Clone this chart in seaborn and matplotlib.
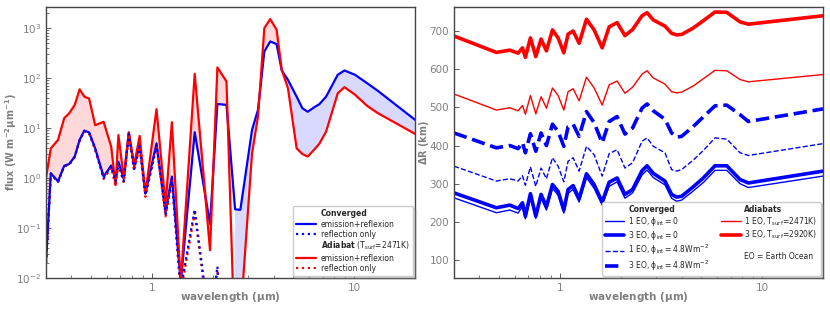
import numpy as np
import pandas as pd
import matplotlib
matplotlib.use("Agg")
import matplotlib.pyplot as plt
from matplotlib.lines import Line2D
from matplotlib.ticker import FixedLocator, FuncFormatter, LogLocator, NullFormatter
import seaborn as sns

# ---------------- data: left panel (flux) ----------------
wl_flux = [0.30, 0.317, 0.344, 0.369, 0.391, 0.416, 0.44, 0.464, 0.49, 0.525,
           0.578, 0.63, 0.662, 0.684, 0.727, 0.77, 0.818, 0.871, 0.93, 1.055,
           1.17, 1.257, 1.39, 1.63, 1.94, 2.11, 2.34, 2.58, 2.74, 3.13,
           3.35, 3.6, 3.85, 4.14, 4.39, 4.71, 5.2, 5.55, 5.9, 6.36,
           6.73, 7.27, 8.3, 8.96, 10.1, 11.6, 13.1, 20.0]
flux_adiabat = [1.0, 3.9, 5.75, 15.6, 19.6, 28.8, 59, 42, 38.6, 11.3,
                13.2, 4.2, 0.72, 7.2, 1.0, 8.1, 1.8, 6.9, 0.49, 23.6,
                0.29, 13, 0.008, 120, 0.036, 161, 84.5, 3e-4, 1.5e-3, 3.1,
                16.9, 985, 1490, 910, 145, 62, 3.9, 3.0, 2.67, 3.7,
                4.8, 8.4, 49, 65, 46, 27.5, 19.7, 7.6]
flux_converged = [0.02, 1.24, 0.85, 1.74, 1.9, 2.67, 5.75, 8.8, 8.1, 3.9,
                  1.06, 1.77, 0.94, 2.1, 0.95, 8.1, 1.69, 4.6, 0.49, 4.9,
                  0.21, 1.06, 0.008, 8.2, 0.12, 30, 28.8, 0.236, 0.23, 9.1,
                  23, 336, 533, 471, 140, 91, 42, 24.7, 21, 25.9,
                  29.7, 42, 115, 140, 115, 78, 55, 14.5]
refl_converged = [0.02, 1.22, 0.84, 1.72, 1.88, 2.64, 5.7, 8.7, 8.0, 3.8,
                  1.0, 1.7, 0.85, 1.9, 0.85, 7.5, 1.5, 4.3, 0.45, 4.5,
                  0.19, 0.95, 0.006, 0.236, 0.001, 0.017, 1e-5, 1e-6, 1e-6, 1e-6,
                  1e-6, 1e-6, 1e-6, 1e-6, 1e-6, 1e-6, 1e-6, 1e-6, 1e-6, 1e-6,
                  1e-6, 1e-6, 1e-6, 1e-6, 1e-6, 1e-6, 1e-6, 1e-6]
refl_adiabat = [0.02, 1.2, 0.82, 1.7, 1.85, 2.6, 5.6, 8.5, 7.8, 3.6,
                0.95, 1.6, 0.68, 1.8, 0.8, 7.2, 1.4, 4.1, 0.42, 4.3,
                0.17, 0.9, 0.005, 0.2, 0.0008, 0.015, 1e-5, 1e-6, 1e-6, 1e-6,
                1e-6, 1e-6, 1e-6, 1e-6, 1e-6, 1e-6, 1e-6, 1e-6, 1e-6, 1e-6,
                1e-6, 1e-6, 1e-6, 1e-6, 1e-6, 1e-6, 1e-6, 1e-6]

# ---------------- data: right panel (Delta R) ----------------
wl_rad = [0.30, 0.486, 0.566, 0.622, 0.654, 0.676, 0.716, 0.761, 0.808, 0.859,
          0.920, 0.981, 1.047, 1.099, 1.164, 1.246, 1.355, 1.478, 1.62, 1.754,
          1.92, 2.10, 2.29, 2.55, 2.70, 2.90, 3.31, 3.57, 3.78, 4.00,
          4.57, 5.12, 5.85, 6.69, 7.78, 8.55, 20.0]
dr_adiab_3eo = [687, 644, 650, 642, 656, 631, 682, 633, 679, 648,
                703, 682, 643, 692, 700, 668, 731, 703, 656, 711,
                722, 688, 704, 740, 748, 729, 713, 694, 690, 691,
                708, 727, 750, 749, 724, 718, 740]
dr_adiab_1eo = [535, 493, 499, 491, 505, 482, 531, 483, 528, 498,
                551, 531, 493, 541, 549, 517, 579, 551, 506, 559,
                569, 537, 553, 587, 596, 577, 561, 541, 538, 540,
                556, 575, 597, 596, 573, 567, 586]
dr_conv_3eo_48 = [433, 394, 400, 392, 408, 381, 431, 385, 433, 400,
                  456, 437, 398, 449, 456, 424, 489, 460, 407, 463,
                  476, 430, 446, 498, 509, 491, 469, 433, 422, 424,
                  450, 475, 504, 506, 481, 463, 496]
dr_conv_1eo_48 = [346, 307, 313, 307, 321, 296, 344, 293, 341, 313,
                  368, 346, 305, 359, 368, 333, 398, 376, 320, 379,
                  389, 341, 355, 411, 420, 398, 381, 337, 333, 337,
                  362, 387, 420, 417, 381, 374, 405]
dr_conv_3eo_0 = [276, 237, 244, 235, 250, 215, 274, 215, 272, 240,
                 298, 280, 231, 285, 295, 261, 326, 298, 252, 304,
                 315, 272, 285, 334, 347, 327, 307, 272, 265, 267,
                 292, 315, 347, 347, 311, 302, 333]
dr_conv_1eo_0 = [263, 224, 231, 223, 240, 208, 263, 209, 262, 231,
                 288, 270, 223, 275, 285, 252, 316, 288, 244, 293,
                 305, 262, 276, 323, 336, 316, 297, 262, 254, 257,
                 281, 303, 335, 335, 300, 290, 320]

# ---------------- style ----------------
sns.set_theme(style="ticks")
plt.rcParams['font.family'] = ['DejaVu Sans']
GREY = '#808080'
plt.rcParams.update({
    'axes.edgecolor': '#444444',
    'axes.linewidth': 1.0,
    'xtick.direction': 'in', 'ytick.direction': 'in',
    'xtick.color': '#444444', 'ytick.color': '#444444',
    'xtick.labelcolor': GREY, 'ytick.labelcolor': GREY,
    'xtick.labelsize': 7.5, 'ytick.labelsize': 7.5,
    'xtick.major.size': 3.5, 'ytick.major.size': 3.5,
    'xtick.minor.size': 2, 'ytick.minor.size': 2,
    'xtick.major.width': 0.6, 'ytick.major.width': 0.6,
    'xtick.minor.width': 0.5, 'ytick.minor.width': 0.5,
    'mathtext.default': 'regular',
})

fig = plt.figure(figsize=(8.3, 3.12), dpi=100)
axL = fig.add_axes([46/830, 1-278/312, (415-46)/830, (278-7)/312])
axR = fig.add_axes([454/830, 1-278/312, (823-454)/830, (278-7)/312])

# ---------------- left panel ----------------
wlf = np.array(wl_flux)
fa = np.array(flux_adiabat)
fc = np.array(flux_converged)
axL.set_xscale('log')
axL.set_yscale('log')
axL.fill_between(wlf, fa, fc, where=fa >= fc, interpolate=True,
                 color='red', alpha=0.15, lw=0)
axL.fill_between(wlf, fa, fc, where=fc >= fa, interpolate=True,
                 color='blue', alpha=0.15, lw=0)
kw = dict(ax=axL, estimator=None, sort=False, legend=False)
sns.lineplot(x=wl_flux, y=flux_converged, color='blue', lw=1.6, **kw)
sns.lineplot(x=wl_flux, y=flux_adiabat, color='red', lw=1.6, **kw)
sns.lineplot(x=wl_flux, y=refl_adiabat, color='red', lw=1.6, linestyle=':', **kw)
sns.lineplot(x=wl_flux, y=refl_converged, color='blue', lw=1.6, linestyle=':', **kw)
axL.set_xlim(0.3, 20)
axL.set_ylim(1e-2, 2.6e3)
axL.set_xlabel(r'wavelength ($\mu$m)', color=GREY, fontsize=7.5, fontweight='bold')
axL.set_ylabel(r'flux (W m$^{-2}$$\mu$m$^{-1}$)', color=GREY, fontsize=7, fontweight='bold')
axL.yaxis.set_label_coords(-0.072, 0.5)
axL.xaxis.set_label_coords(0.5, -0.045)

none = dict(color='none', lw=0)
hL = [Line2D([], [], **none),
      Line2D([], [], color='blue', lw=1.6),
      Line2D([], [], color='blue', lw=1.6, linestyle=':'),
      Line2D([], [], **none),
      Line2D([], [], color='red', lw=1.6),
      Line2D([], [], color='red', lw=1.6, linestyle=':')]
lL = ['Converged', 'emission+reflexion', 'reflection only',
      r'$\mathbf{Adiabat}$ (T$_{surf}$=2471K)', 'emission+reflexion', 'reflection only']
legL = axL.legend(hL, lL, loc='lower right', fontsize=5.5, handlelength=2.6,
                  labelspacing=0.15, borderpad=0.45, handletextpad=0.6,
                  framealpha=1, edgecolor='0.8', fancybox=True,
                  shadow={'color': '0.5', 'alpha': 0.3, 'ox': 2, 'oy': -2},
                  borderaxespad=0.25)
legL.get_texts()[0].set_fontweight('bold')

# ---------------- right panel ----------------
axR.set_xscale('log')
kr = dict(ax=axR, estimator=None, sort=False, legend=False)
sns.lineplot(x=wl_rad, y=dr_conv_1eo_0, color='blue', lw=1.0, **kr)
sns.lineplot(x=wl_rad, y=dr_conv_3eo_0, color='blue', lw=2.6, **kr)
sns.lineplot(x=wl_rad, y=dr_conv_1eo_48, color='blue', lw=1.0, linestyle='--', **kr)
sns.lineplot(x=wl_rad, y=dr_conv_3eo_48, color='blue', lw=2.6, linestyle='--', **kr)
sns.lineplot(x=wl_rad, y=dr_adiab_1eo, color='red', lw=1.0, **kr)
sns.lineplot(x=wl_rad, y=dr_adiab_3eo, color='red', lw=2.6, **kr)
axR.set_xlim(0.3, 20)
axR.set_ylim(53, 763)
axR.yaxis.set_major_locator(FixedLocator([100, 200, 300, 400, 500, 600, 700]))
axR.set_xlabel(r'wavelength ($\mu$m)', color=GREY, fontsize=7.5, fontweight='bold')
axR.set_ylabel(r'$\Delta$R (km)', color=GREY, fontsize=7, fontweight='bold')
axR.yaxis.set_label_coords(-0.062, 0.5)
axR.xaxis.set_label_coords(0.5, -0.045)

hR = [Line2D([], [], **none),
      Line2D([], [], color='blue', lw=1.0),
      Line2D([], [], color='blue', lw=2.6),
      Line2D([], [], color='blue', lw=1.0, linestyle='--'),
      Line2D([], [], color='blue', lw=2.6, linestyle='--'),
      Line2D([], [], **none),
      Line2D([], [], color='red', lw=1.0),
      Line2D([], [], color='red', lw=2.6),
      Line2D([], [], **none),
      Line2D([], [], **none)]
lR = ['Converged', r'1 EO, $\phi_{int} = 0$', r'3 EO, $\phi_{int} = 0$',
      r'1 EO, $\phi_{int} = 4.8$Wm$^{-2}$', r'3 EO, $\phi_{int} = 4.8$Wm$^{-2}$',
      'Adiabats', r'1 EO, T$_{surf}$=2471K)', r'3 EO, T$_{surf}$=2920K)', ' ',
      'EO = Earth Ocean']
legR = axR.legend(hR, lR, loc='lower right', ncol=2, fontsize=5.5, handlelength=2.5,
                  labelspacing=0.12, borderpad=0.4, handletextpad=0.5,
                  columnspacing=1.6, framealpha=1, edgecolor='0.8', fancybox=True,
                  shadow={'color': '0.5', 'alpha': 0.3, 'ox': 2, 'oy': -2},
                  borderaxespad=0.3)
legR.get_texts()[0].set_fontweight('bold')
legR.get_texts()[5].set_fontweight('bold')

for ax in (axL, axR):
    ax.xaxis.set_major_locator(FixedLocator([1, 10]))
    ax.xaxis.set_major_formatter(FuncFormatter(lambda v, p: f'{v:g}'))
    ax.xaxis.set_minor_locator(LogLocator(base=10, subs=np.arange(2, 10)))
    ax.xaxis.set_minor_formatter(NullFormatter())
    ax.tick_params(which='both', top=False, right=False)
    for s in ax.spines.values():
        s.set_visible(True)

fig.savefig('out.png', dpi=100)
